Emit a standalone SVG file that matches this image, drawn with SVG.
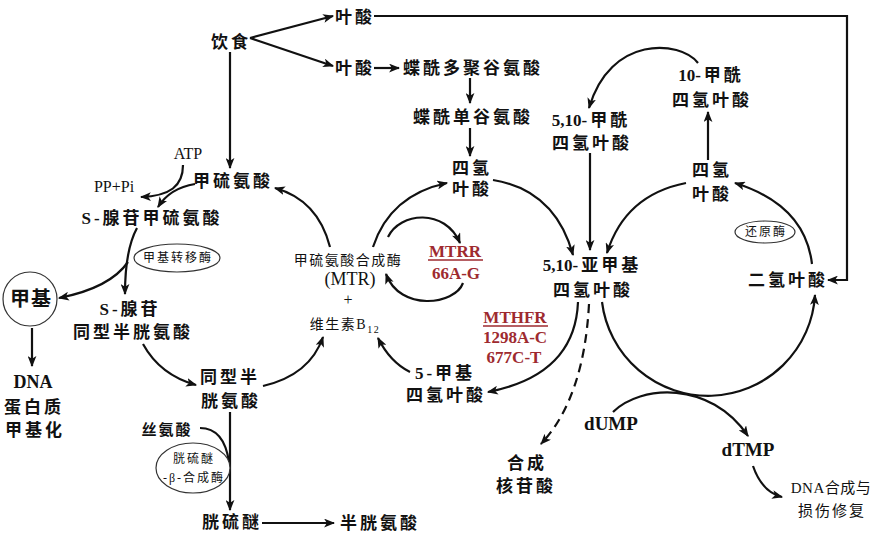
<svg xmlns="http://www.w3.org/2000/svg" width="884" height="534" viewBox="0 0 884 534">
<style>
text{font-family:"Liberation Serif","Noto Sans CJK SC",serif;text-anchor:middle;fill:#111}
.b{font-size:17px;font-weight:bold;letter-spacing:3px}
.n{font-size:12px;font-weight:normal;letter-spacing:2px}
.m{font-size:14px;font-weight:normal;letter-spacing:1.5px}
.lat{font-weight:bold;font-size:18px;letter-spacing:0}
.z{letter-spacing:0}
.red{fill:#9e2a2f;font-weight:bold;font-size:17px;letter-spacing:0}
.c{fill:none;stroke:#111;stroke-width:2.2}
.e{fill:#fff;stroke:#333;stroke-width:1.2}
</style>
<defs>
<marker id="ah" viewBox="0 0 10 8" refX="9" refY="4" markerWidth="11" markerHeight="9" markerUnits="userSpaceOnUse" orient="auto"><path d="M0,0 L10,4 L0,8 L2.5,4 z" fill="#111"/></marker>
</defs>
<rect width="884" height="534" fill="#fff"/>
<g id="connectors">
<path class="c" d="M250,38 L333,16" marker-end="url(#ah)"/>
<path class="c" d="M250,38 L333,66" marker-end="url(#ah)"/>
<path class="c" d="M374,16 L847,16 L847,280 L828,280" marker-end="url(#ah)"/>
<path class="c" d="M374,68 L399,68" marker-end="url(#ah)"/>
<path class="c" d="M470,78 L470,103" marker-end="url(#ah)"/>
<path class="c" d="M470,128 L470,156" marker-end="url(#ah)"/>
<path class="c" d="M230,52 L230,168" marker-end="url(#ah)"/>
<path class="c" d="M590,153 L590,250" marker-end="url(#ah)"/>
<path class="c" d="M708,160 L708,112" marker-end="url(#ah)"/>
<path class="c" d="M698,63 C680,40 610,35 589,108" marker-end="url(#ah)"/>
<path class="c" d="M183,165 C183,186 170,196 141,197" marker-end="url(#ah)"/>
<path class="c" d="M195,184 Q170,188 158,207" marker-end="url(#ah)"/>
<path class="c" d="M137,228 Q125,250 125,294" marker-end="url(#ah)"/>
<path class="c" d="M128,262 Q110,288 59,298" marker-end="url(#ah)"/>
<path class="c" d="M32,328 L32,366" marker-end="url(#ah)"/>
<path class="c" d="M143,344 Q160,375 196,385" marker-end="url(#ah)"/>
<path class="c" d="M263,386 Q310,375 323,337" marker-end="url(#ah)"/>
<path class="c" d="M330,247 Q318,200 275,188" marker-end="url(#ah)"/>
<path class="c" d="M230,412 L230,510" marker-end="url(#ah)"/>
<path class="c" d="M200,428 Q224,428 229,462"/>
<path class="c" d="M262,523 L334,523" marker-end="url(#ah)"/>
<path class="c" d="M373,247 Q390,195 447,183" marker-end="url(#ah)"/>
<path class="c" d="M493,180 Q555,190 573,255" marker-end="url(#ah)"/>
<path class="c" d="M578,302 Q575,375 488,392" marker-end="url(#ah)"/>
<path class="c" d="M410,372 Q390,362 378,338" marker-end="url(#ah)"/>
<path class="c" d="M388,237 C400,212 445,208 460,243" marker-end="url(#ah)"/>
<path class="c" d="M463,283 C455,305 400,312 386,274" marker-end="url(#ah)"/>
<path class="c" d="M589,304 Q584,398 541,444" stroke-dasharray="9,6" marker-end="url(#ah)"/>
<path class="c" d="M686,183 Q625,195 607,253" marker-end="url(#ah)"/>
<path class="c" d="M812,264 Q805,205 735,183" marker-end="url(#ah)"/>
<path class="c" d="M602,302 A107,107 0 0 0 815,295" marker-end="url(#ah)"/>
<path class="c" d="M613,412 C640,385 710,380 748,436" marker-end="url(#ah)"/>
<path class="c" d="M753,466 Q762,492 782,497" marker-end="url(#ah)"/>
</g>
<g id="diet"><text class="b" x="231" y="48">饮食</text></g>
<g id="folate1"><text class="b" x="355" y="23">叶酸</text></g>
<g id="folate2"><text class="b" x="355" y="74">叶酸</text></g>
<g id="ptpg"><text class="b" x="473" y="74">蝶酰多聚谷氨酸</text></g>
<g id="ptmg"><text class="b" x="473" y="123">蝶酰单谷氨酸</text></g>
<g id="thf1"><text class="b" x="472" y="174">四氢</text><text class="b" x="472" y="195">叶酸</text></g>
<g id="formyl510"><text class="b" x="591" y="126"><tspan class="z">5,10</tspan>-甲酰</text><text class="b" x="592" y="149">四氢叶酸</text></g>
<g id="formyl10"><text class="b" x="711" y="81"><tspan class="z">10</tspan>-甲酰</text><text class="b" x="712" y="106">四氢叶酸</text></g>
<g id="thf2"><text class="b" x="712" y="176">四氢</text><text class="b" x="712" y="200">叶酸</text></g>
<g id="met"><text class="b" x="233" y="187">甲硫氨酸</text></g>
<g id="atp"><text x="188" y="159" style="font-size:16px">ATP</text></g>
<g id="pppi"><text x="114" y="192" style="font-size:16px">PP+Pi</text></g>
<g id="sam"><text class="b" x="152" y="224">S-腺苷甲硫氨酸</text></g>
<g id="mt"><ellipse class="e" cx="177" cy="258" rx="43" ry="14"/><text class="n" x="178" y="262">甲基转移酶</text></g>
<g id="methyl"><circle class="e" cx="30" cy="299" r="27" stroke="#333" stroke-width="1.3"/><text x="31" y="306" style="font-size:20px;font-weight:bold;letter-spacing:1px">甲基</text></g>
<g id="dnameth"><text class="lat" x="33" y="388">DNA</text><text class="b" x="34" y="413">蛋白质</text><text class="b" x="35" y="436">甲基化</text></g>
<g id="sah"><text class="b" x="130" y="315">S-腺苷</text><text class="b" x="133" y="338">同型半胱氨酸</text></g>
<g id="hcy"><text class="b" x="230" y="383">同型半</text><text class="b" x="231" y="407">胱氨酸</text></g>
<g id="ser"><text class="b" x="167" y="435" style="font-size:15px;letter-spacing:2px">丝氨酸</text></g>
<g id="cbs"><ellipse class="e" cx="193" cy="468" rx="37" ry="25"/><text class="n" x="194" y="463">胱硫醚</text><text class="n" x="194" y="482">-β-合成酶</text></g>
<g id="cysth"><text class="b" x="232" y="528">胱硫醚</text></g>
<g id="cys"><text class="b" x="380" y="529">半胱氨酸</text></g>
<g id="mtr"><text class="m" x="348" y="265">甲硫氨酸合成酶</text><text x="350" y="285" style="font-size:18px">(MTR)</text><text x="348" y="305" style="font-size:16px">+</text><text class="m" x="345" y="329">维生素B<tspan dy="4" style="font-size:10px">12</tspan></text></g>
<g id="mtrr"><text class="red" x="455" y="257">MTRR</text><line x1="428" y1="260" x2="483" y2="260" stroke="#9e2a2f" stroke-width="1.5"/><text class="red" x="456" y="279">66A-G</text></g>
<g id="mthfr"><text class="red" x="515" y="323">MTHFR</text><line x1="483" y1="326" x2="548" y2="326" stroke="#9e2a2f" stroke-width="1.5"/><text class="red" x="515" y="343">1298A-C</text><text class="red" x="514" y="363">677C-T</text></g>
<g id="methylene"><text class="b" x="592" y="271"><tspan class="z">5,10</tspan>-亚甲基</text><text class="b" x="593" y="296">四氢叶酸</text></g>
<g id="methyl5"><text class="b" x="445" y="379">5-甲基</text><text class="b" x="446" y="401">四氢叶酸</text></g>
<g id="nuc"><text class="b" x="527" y="469">合成</text><text class="b" x="526" y="492">核苷酸</text></g>
<g id="dhf"><text class="b" x="788" y="286">二氢叶酸</text></g>
<g id="red"><ellipse class="e" cx="765" cy="232" rx="30" ry="11"/><text class="n" x="766" y="236">还原酶</text></g>
<g id="dump"><text class="lat" x="611" y="430" style="font-size:19px">dUMP</text></g>
<g id="dtmp"><text class="lat" x="748" y="456" style="font-size:19px">dTMP</text></g>
<g id="dna"><text x="831" y="493" style="font-size:15px;letter-spacing:0.5px">DNA合成与</text><text x="832" y="516" style="font-size:15px;letter-spacing:2px">损伤修复</text></g>
</svg>
